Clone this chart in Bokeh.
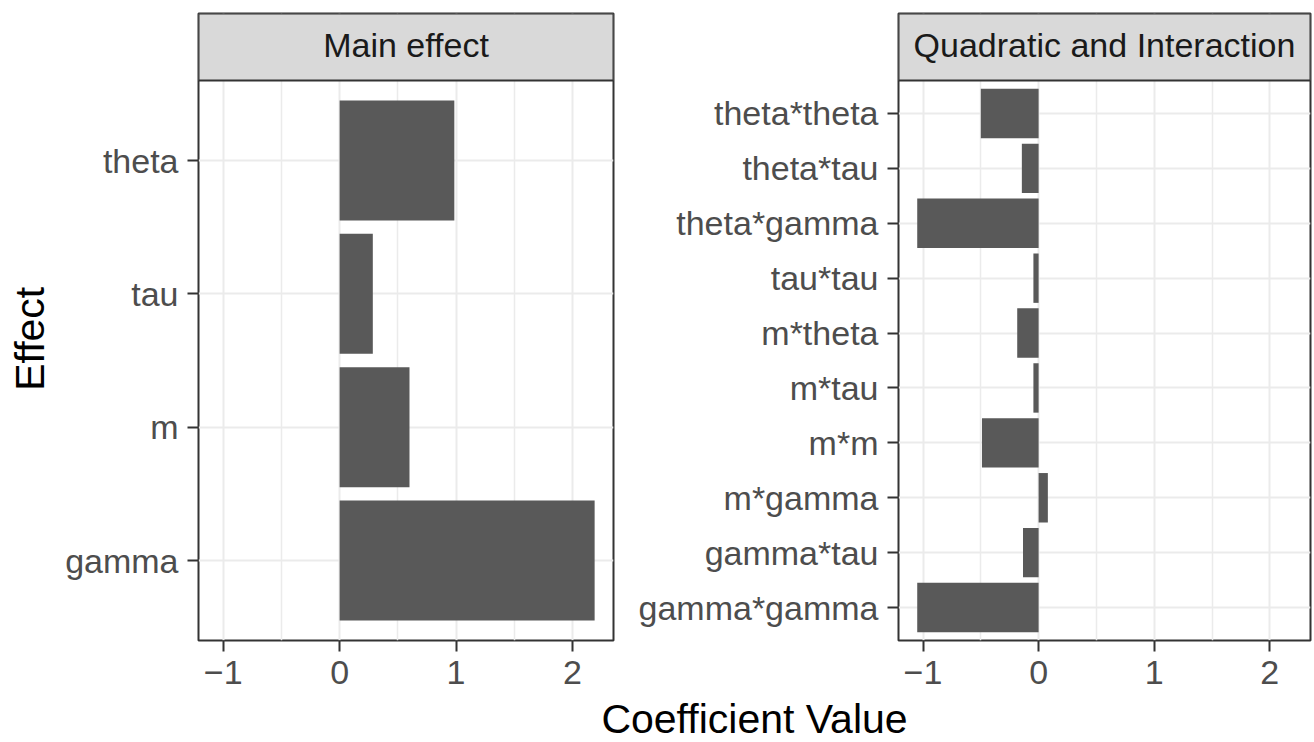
import math
from bokeh.plotting import figure
from bokeh.models import Range1d, FixedTicker, BoxAnnotation, Label
from bokeh.layouts import row, column
from bokeh.embed import file_html
from bokeh.resources import INLINE

# ---------------- data ----------------
main_labels = ["gamma", "m", "tau", "theta"]
main_values = [2.19, 0.60, 0.285, 0.985]

inter_labels = ["gamma*gamma", "gamma*tau", "m*gamma", "m*m", "m*tau",
                "m*theta", "tau*tau", "theta*gamma", "theta*tau", "theta*theta"]
inter_values = [-1.05, -0.135, 0.08, -0.49, -0.045,
                -0.185, -0.045, -1.05, -0.145, -0.50]

x_ticks = [-1, 0, 1, 2]
x_tick_labels = ["\u22121", "0", "1", "2"]
x_minor_ticks = [-1.5, -0.5, 0.5, 1.5]
panel_titles = ["Main effect", "Quadratic and Interaction"]
x_title = "Coefficient Value"
y_title = "Effect"

# ---------------- style ----------------
FONT = "Liberation Sans"
BAR = "#595959"
STRIP_FILL = "#D9D9D9"
BORDER = "#333333"
GRID = "#EBEBEB"
TICK_TXT = "#4D4D4D"
STRIP_TXT = "#1A1A1A"
TICK_FS = "34px"
TITLE_FS = "41px"
TXT_SHIFT = 14   # renderer places the alphabetic baseline this many px past the anchor

PANEL_H = 560
STRIP_H = 67
TOP = 13
BOTTOM = 52
FIG_H = TOP + STRIP_H + PANEL_H + BOTTOM

all_vals = main_values + inter_values
lo, hi = min(all_vals + [0]), max(all_vals + [0])
pad = 0.05 * (hi - lo)
x_lo, x_hi = lo - pad, hi + pad


def make_panel(labels, values, title, frame_w, left_b, right_b):
    n = len(labels)
    y0, y1 = 0.4, n + 0.6
    upp = (y1 - y0) / PANEL_H
    y_end = y1 + STRIP_H * upp
    p = figure(width=left_b + frame_w + right_b, height=FIG_H,
               x_range=Range1d(x_lo, x_hi), y_range=Range1d(y0, y_end),
               output_backend="svg", toolbar_location=None,
               min_border_left=left_b, min_border_right=right_b,
               min_border_top=TOP, min_border_bottom=BOTTOM)
    p.background_fill_color = "white"
    p.border_fill_color = "white"
    p.outline_line_color = BORDER
    p.outline_line_width = 2

    pos = list(range(1, n + 1))
    p.hbar(y=pos, left=0, right=values, height=0.9,
           fill_color=BAR, line_color=None)

    xt = FixedTicker(ticks=x_ticks, minor_ticks=x_minor_ticks)
    yt = FixedTicker(ticks=pos, minor_ticks=[])
    p.xaxis.ticker = xt
    p.yaxis.ticker = yt
    p.xgrid.ticker = xt
    p.ygrid.ticker = yt
    p.xaxis.major_label_overrides = {t: s for t, s in zip(x_ticks, x_tick_labels)}
    p.yaxis.major_label_overrides = {i: s for i, s in zip(pos, labels)}

    for ax in (p.xaxis, p.yaxis):
        ax.axis_line_color = None
        ax.major_tick_line_color = BORDER
        ax.major_tick_line_width = 2
        ax.major_tick_out = 11
        ax.major_tick_in = 0
        ax.minor_tick_line_color = None
        ax.major_label_text_font = FONT
        ax.major_label_text_font_size = TICK_FS
        ax.major_label_text_color = TICK_TXT
    p.xaxis.major_label_standoff = 9
    p.yaxis.major_label_standoff = 9

    p.xgrid.grid_line_color = GRID
    p.xgrid.grid_line_width = 2
    p.xgrid.minor_grid_line_color = GRID
    p.xgrid.minor_grid_line_width = 1.5
    p.ygrid.grid_line_color = GRID
    p.ygrid.grid_line_width = 2

    strip = BoxAnnotation(bottom=y1, fill_color=STRIP_FILL, fill_alpha=1.0,
                          line_color=BORDER, line_width=2, line_alpha=1.0)
    p.add_layout(strip)
    lab = Label(x=(x_lo + x_hi) / 2, y=y1 + (22 + TXT_SHIFT) * upp, text=title,
                text_align="center", text_baseline="alphabetic",
                text_font=FONT, text_font_size=TICK_FS, text_color=STRIP_TXT)
    p.add_layout(lab)
    return p


def text_box(width, height, text, x, y, angle=0.0):
    f = figure(width=width, height=height, x_range=Range1d(0, width),
               y_range=Range1d(0, height), x_axis_type=None, y_axis_type=None,
               output_backend="svg", toolbar_location=None, min_border=0)
    f.outline_line_color = None
    f.grid.visible = False
    f.add_layout(Label(x=x, y=y, text=text, angle=angle, text_align="center",
                       text_baseline="alphabetic", text_font=FONT,
                       text_font_size=TITLE_FS, text_color="black"))
    return f


W0 = 52
L1, F1, R1 = 198 - W0, 415, 10
L2, F2, R2 = 898 - (W0 + L1 + F1 + R1), 412, 3

p1 = make_panel(main_labels, main_values, panel_titles[0], F1, L1, R1)
p2 = make_panel(inter_labels, inter_values, panel_titles[1], F2, L2, R2)

# y-axis title (left strip)
p0 = text_box(W0, FIG_H, y_title, 43 - TXT_SHIFT, FIG_H - 359, angle=math.pi / 2)

# x-axis title (bottom strip), centred under both panels
W = W0 + p1.width + p2.width
H3 = 742 - FIG_H
p3 = text_box(W, H3, x_title, (198 + 898 + F2) / 2, 10 + TXT_SHIFT)

layout = column(row(p0, p1, p2), p3)
open("out.html", "w").write(file_html(layout, INLINE))
